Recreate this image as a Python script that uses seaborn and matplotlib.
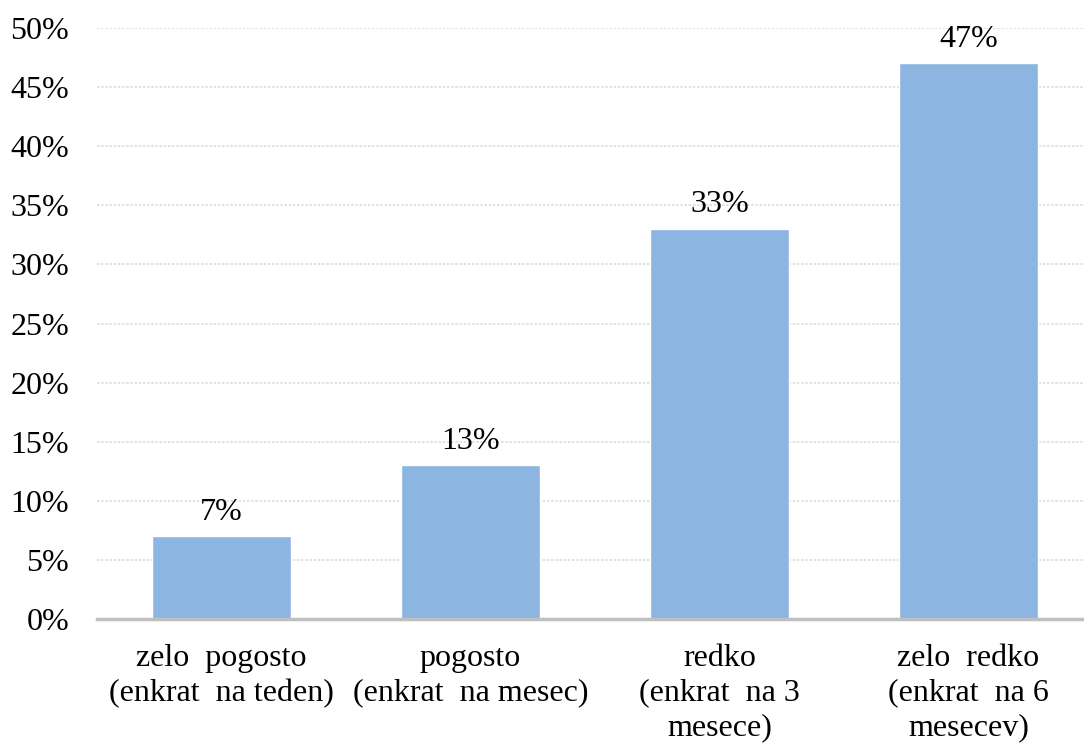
import matplotlib
matplotlib.use("Agg")
import matplotlib.pyplot as plt
import seaborn as sns
import pandas as pd

categories = [
    "zelo  pogosto\n(enkrat  na teden)",
    "pogosto\n(enkrat  na mesec)",
    "redko\n(enkrat  na 3\nmesece)",
    "zelo  redko\n(enkrat  na 6\nmesecev)",
]
values = [7, 13, 33, 47]
y_ticks = [0, 5, 10, 15, 20, 25, 30, 35, 40, 45, 50]

sns.set_theme(style="white")
plt.rcParams["font.family"] = ["Liberation Serif", "DejaVu Serif"]
plt.rcParams["text.color"] = "#000000"
plt.rcParams["xtick.color"] = "#000000"
plt.rcParams["ytick.color"] = "#000000"

df = pd.DataFrame({"cat": categories, "val": values})

fig = plt.figure(figsize=(10.84, 7.44), dpi=100)
ax = fig.add_axes([97 / 1084, 1 - 619 / 744, 987 / 1084, (619 - 28) / 744])

sns.barplot(data=df, x="cat", y="val", color="#8DB5E2", saturation=1,
            width=0.56, ax=ax, zorder=3)

ax.set_ylim(0, 50)
ax.set_xlim(-0.5, 3.464)
ax.set_yticks(y_ticks)
ax.set_yticklabels([f"{t}%" for t in y_ticks], fontsize=23, color="#000000")
ax.set_xticklabels(categories, fontsize=23, linespacing=1.25, color="#000000")
ax.set_xlabel("")
ax.set_ylabel("")

ax.yaxis.grid(True, color="#DDDDDD", linestyle=(0, (1.5, 1)), linewidth=1.2, zorder=0)
ax.xaxis.grid(False)
for side in ["top", "right", "left"]:
    ax.spines[side].set_visible(False)
ax.spines["bottom"].set_color("#BFBFBF")
ax.spines["bottom"].set_linewidth(2.5)
ax.spines["bottom"].set_zorder(4)
ax.tick_params(axis="y", length=0, pad=20)
ax.tick_params(axis="x", length=0, pad=18)

for container in ax.containers:
    ax.bar_label(container, labels=[f"{v}%" for v in values], padding=7,
                 fontsize=23, color="#000000")

fig.savefig("out.png", dpi=100)
